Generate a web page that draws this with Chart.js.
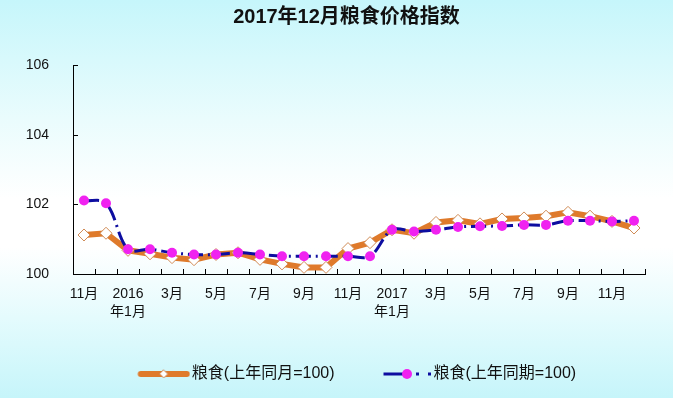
<!DOCTYPE html>
<html>
<head>
<meta charset="utf-8">
<script src="https://cdn.jsdelivr.net/npm/chart.js@4"></script>
<style>
html,body{margin:0;padding:0;}
#wrap{width:673px;height:398px;background:linear-gradient(to bottom,#c6f6fb 0%,#eafcfd 30%,#ffffff 50%,#ffffff 62%,#e4fbfd 80%,#c6f5fa 100%);}
canvas{display:block;}
</style>
</head>
<body>
<div id="wrap"><canvas id="c" width="673" height="398"></canvas></div>
<script>
// Categories: 2015-11 .. 2017-12
const months = ['2015-11','2015-12','2016-01','2016-02','2016-03','2016-04','2016-05','2016-06','2016-07','2016-08','2016-09','2016-10','2016-11','2016-12',
                '2017-01','2017-02','2017-03','2017-04','2017-05','2017-06','2017-07','2017-08','2017-09','2017-10','2017-11','2017-12'];
const tickLabels = ['11月','',['2016','年1月'],'','3月','','5月','','7月','','9月','','11月','',['2017','年1月'],'','3月','','5月','','7月','','9月','','11月',''];
const yTicks = [100,102,104,106];
const title = '2017年12月粮食价格指数';
const seriesNames = ['粮食(上年同月=100)','粮食(上年同期=100)'];
// 粮食(上年同月=100)
const sameMonth = [101.12,101.17,100.68,100.58,100.47,100.41,100.56,100.61,100.42,100.29,100.19,100.19,100.73,100.90,
                   101.27,101.17,101.48,101.54,101.44,101.58,101.61,101.66,101.77,101.66,101.51,101.32];
// 粮食(上年同期=100)
const samePeriod = [102.11,102.03,100.71,100.71,100.61,100.56,100.56,100.61,100.56,100.51,100.51,100.51,100.51,100.51,
                    101.27,101.22,101.27,101.35,101.37,101.38,101.41,101.41,101.53,101.53,101.51,101.53];

const ORANGE = '#DF7A2B', BLUE = '#0D0DA0', MAGENTA = '#F022F0', DIAMOND_BORDER = '#CF8A55';
const FONT = "'Liberation Sans','Noto Sans CJK SC',sans-serif";

function legendImg1(){
  const c = document.createElement('canvas'); c.width = 80; c.height = 14;
  const g = c.getContext('2d');
  g.strokeStyle = ORANGE; g.lineWidth = 6; g.lineCap = 'round';
  g.beginPath(); g.moveTo(30.5,7); g.lineTo(76.5,7); g.stroke();
  g.fillStyle = '#fff'; g.strokeStyle = DIAMOND_BORDER; g.lineWidth = 1;
  g.beginPath(); g.moveTo(53.5,3); g.lineTo(57.5,7); g.lineTo(53.5,11); g.lineTo(49.5,7); g.closePath(); g.fill(); g.stroke();
  return c;
}
function legendImg2(){
  const c = document.createElement('canvas'); c.width = 80; c.height = 14;
  const g = c.getContext('2d');
  g.strokeStyle = BLUE; g.lineWidth = 3;
  g.beginPath(); g.moveTo(31.5,7); g.lineTo(54,7); g.stroke();
  g.fillStyle = MAGENTA; g.beginPath(); g.arc(55,7,5,0,Math.PI*2); g.fill();
  g.fillStyle = BLUE;
  g.fillRect(64,5.5,3,3); g.fillRect(76,5.5,3,3);
  return c;
}
const legendImages = [legendImg1(), legendImg2()];

const innerTicks = {
  id:'innerTicks',
  beforeDatasetsDraw(chart){
    const ctx = chart.ctx, x = chart.scales.x, y = chart.scales.y, a = chart.chartArea;
    ctx.save(); ctx.strokeStyle = '#000'; ctx.lineWidth = 1;
    ctx.beginPath();
    for (let i = 0; i <= months.length; i++){
      const px = Math.round(x.getPixelForValue(i - 0.5)) + 0.5;
      ctx.moveTo(px, a.bottom); ctx.lineTo(px, a.bottom - 5);
    }
    yTicks.forEach(v => {
      const py = Math.round(y.getPixelForValue(v)) + 0.5;
      ctx.moveTo(a.left, py); ctx.lineTo(a.left + 5, py);
    });
    ctx.stroke(); ctx.restore();
  }
};

new Chart(document.getElementById('c'), {
  type:'line',
  data:{
    labels: months,
    datasets:[
      {label: seriesNames[0], data: sameMonth, order: 1,
       borderColor: ORANGE, borderWidth: 6, tension: 0,
       pointStyle:'rectRot', pointRadius: 6, pointBackgroundColor:'#fff', pointBorderColor: DIAMOND_BORDER, pointBorderWidth: 1},
      {label: seriesNames[1], data: samePeriod, order: 0,
       borderColor: BLUE, borderWidth: 3, borderDash:[15,5,2,5], tension: 0.35,
       pointStyle:'circle', pointRadius: 5, pointBackgroundColor: MAGENTA, pointBorderColor: MAGENTA, pointBorderWidth: 0}
    ]
  },
  options:{
    responsive:false, animation:false,
    layout:{padding:{left:20,right:0,top:0,bottom:6}},
    plugins:{
      tooltip:{enabled:false},
      title:{display:true, text:title, color:'#111', font:{family:FONT, size:20, weight:'bold'}, padding:{top:5, bottom:36}},
      legend:{position:'bottom',
        labels:{usePointStyle:true, pointStyleWidth:67, padding:24, color:'#111',
          font:{family:FONT, size:16},
          generateLabels(chart){
            return chart.data.datasets.map((d,i)=>({text:d.label, pointStyle:legendImages[i], fillStyle:'transparent', strokeStyle:'transparent', lineWidth:0, hidden:false, datasetIndex:i, fontColor:'#111'}));
          }
        }
      }
    },
    scales:{
      x:{type:'category', offset:true,
         grid:{display:false, offset:true}, border:{display:true, color:'#000', width:1},
         ticks:{autoSkip:false, maxRotation:0, padding:3, color:'#111', font:{family:FONT, size:14, lineHeight:1.3},
                callback:(v,i)=>tickLabels[i]},
         afterFit(s){ s.height = 68; }
      },
      y:{min:100, max:106, grid:{display:false, drawTicks:false}, border:{display:true, color:'#000', width:1},
         afterBuildTicks(s){ s.ticks = yTicks.map(v=>({value:v})); },
         ticks:{padding:24, color:'#111', font:{family:FONT, size:14}},
         afterFit(s){ s.width = 53; }
      },
      yR:{type:'linear', position:'right', display:true, grid:{display:false, drawTicks:false}, border:{display:false},
         ticks:{display:false}, afterFit(s){ s.width = 28; }}
    }
  },
  plugins:[innerTicks]
});
</script>
</body>
</html>
